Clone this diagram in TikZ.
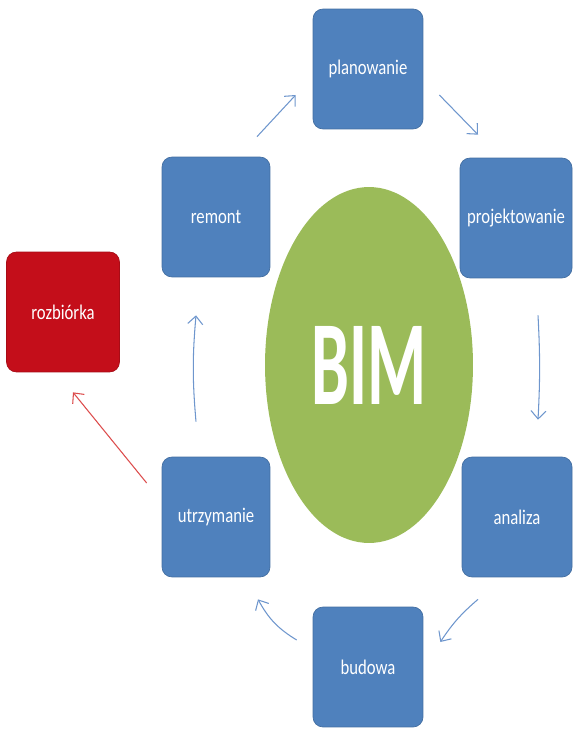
\documentclass[tikz,border=0pt]{standalone}
\definecolor{BoxBlue}{RGB}{79,129,189}
\definecolor{BoxRed}{RGB}{196,14,26}
\definecolor{BimGreen}{RGB}{155,187,89}
\definecolor{FlowBlue}{RGB}{110,150,205}
\definecolor{FlowRed}{RGB}{220,75,75}
\usepackage{fontspec}
\setmainfont{Carlito}
\usepackage{tikz}
\usetikzlibrary{arrows.meta, shapes.geometric, positioning, calc}
\newcommand{\tall}[1]{\scalebox{1}[1.25]{#1}}

\begin{document}
\begin{tikzpicture}[x=0.02cm, y=-0.02cm,
	phase/.style={draw=BoxBlue!85!black, fill=BoxBlue, rounded corners=0.2cm,
		minimum width=2.2cm, minimum height=2.4cm, inner sep=1pt,
		text=white, font=\fontsize{9.5}{11}\selectfont},
	flow/.style={FlowBlue, line width=0.6pt, -{Straight Barb[length=1.6mm, width=3mm]}}]
	\useasboundingbox (0,0) rectangle (573,729);

	% centrum
	\node[ellipse, fill=BimGreen, inner sep=0pt, minimum width=4.16cm,
		minimum height=7.12cm, text=white] (bim) at (369,365)
		{\scalebox{1}[1.78]{\fontsize{38.5}{40}\selectfont\bfseries BIM}};

	% fazy cyklu
	\node[phase] (planowanie) at (368,69) {\tall{planowanie}};
	\node[phase, minimum width=2.24cm] (projektowanie) at (516,218) {\tall{projektowanie}};
	\node[phase] (analiza) at (517,517) {\tall{analiza}};
	\node[phase] (budowa) at (368,667) {\tall{budowa}};
	\node[phase, minimum width=2.16cm] (utrzymanie) at (216,517) {\tall{utrzymanie}};
	\node[phase, minimum width=2.16cm] (remont) at (216,217) {\tall{remont}};
	\node[phase, fill=BoxRed, draw=BoxRed!85!black, minimum width=2.26cm] (rozbiorka) at (63,312) {\tall{rozbiórka}};

	% strzalki
	\draw[flow] ([shift={(41,-20)}]remont.north) -- ([shift={(-17,26)}]planowanie.west);
	\draw[flow] ([shift={(16,26)}]planowanie.east) -- ([shift={(-38,-23)}]projektowanie.north);
	\draw[flow] ([shift={(22,37)}]projektowanie.south) to[bend left=3] ([shift={(21,-37)}]analiza.north);
	\draw[flow] ([shift={(-39,22)}]analiza.south) to[bend right=8] ([shift={(17,-25)}]budowa.east);
	\draw[flow] ([shift={(-16,-27)}]budowa.west) to[bend left=15] ([shift={(42,22)}]utrzymanie.south);
	\draw[flow] ([shift={(-20,-35)}]utrzymanie.north) to[bend left=5] ([shift={(-20,38)}]remont.south);
	\draw[flow, FlowRed] ([shift={(-15,-34)}]utrzymanie.west) -- ([shift={(10,20)}]rozbiorka.south);
\end{tikzpicture}
\end{document}
